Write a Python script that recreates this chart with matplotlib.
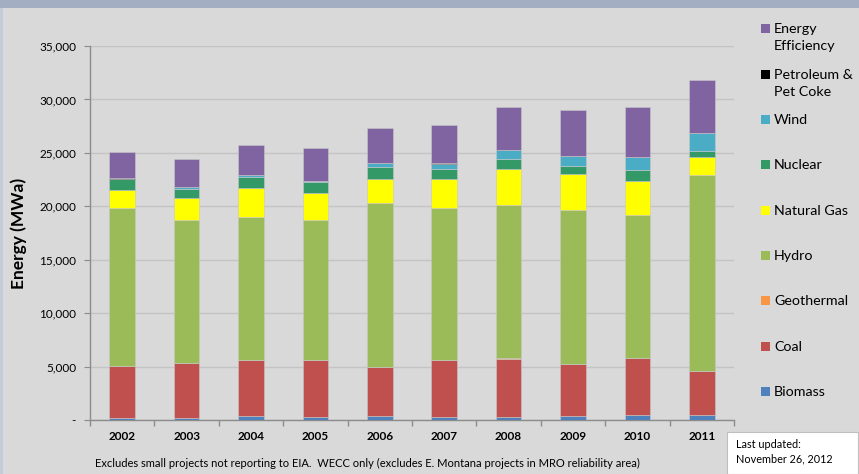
import matplotlib
matplotlib.use("Agg")
import matplotlib.pyplot as plt
from matplotlib.patches import Rectangle
from matplotlib.ticker import FuncFormatter, FixedLocator
import numpy as np

plt.rcParams['font.family'] = ['Lato', 'DejaVu Sans']

years = ["2002", "2003", "2004", "2005", "2006", "2007", "2008", "2009", "2010", "2011"]

# MWa per resource, bottom to top of each stack
biomass = [200, 230, 370, 300, 350, 300, 300, 390, 460, 460]
coal = [4850, 5080, 5200, 5290, 4590, 5290, 5450, 4830, 5320, 4105]
geothermal = [50, 50, 50, 50, 50, 50, 50, 50, 50, 50]
hydro = [14700, 13385, 13385, 13075, 15290, 14230, 14350, 14350, 13350, 18285]
natural_gas = [1710, 2030, 2710, 2555, 2300, 2680, 3310, 3430, 3220, 1740]
nuclear = [1000, 875, 1060, 970, 1095, 940, 1000, 750, 1020, 530]
wind = [90, 180, 130, 100, 345, 500, 780, 930, 1160, 1690]
petroleum = [20, 20, 20, 20, 20, 20, 20, 20, 20, 20]
energy_efficiency = [2450, 2560, 2800, 3050, 3305, 3610, 3990, 4280, 4680, 4960]

series = [
    ("Biomass", biomass, "#4f81bd"),
    ("Coal", coal, "#c0504d"),
    ("Geothermal", geothermal, "#f79646"),
    ("Hydro", hydro, "#9bbb59"),
    ("Natural Gas", natural_gas, "#ffff00"),
    ("Nuclear", nuclear, "#339966"),
    ("Wind", wind, "#4bacc6"),
    ("Petroleum &\nPet Coke", petroleum, "#000000"),
    ("Energy\nEfficiency", energy_efficiency, "#8064a2"),
]

W, H = 859, 474
fig = plt.figure(figsize=(W / 100, H / 100), dpi=100)
fig.patch.set_facecolor("#d9d9d9")

# slide-style top band and left edge
fig.patches.append(Rectangle((0, 1 - 8 / H), 1, 8 / H, transform=fig.transFigure,
                             facecolor="#a3aec2", edgecolor="none", zorder=0))
fig.patches.append(Rectangle((0, 0), 3 / W, 1 - 8 / H, transform=fig.transFigure,
                             facecolor="#c5ccd9", edgecolor="none", zorder=0))

ax = fig.add_axes([90 / W, 1 - 420 / H, 644 / W, 374 / H])
ax.set_facecolor("#d9d9d9")

x = np.arange(len(years))
bottom = np.zeros(len(years))
for name, vals, color in series:
    ax.bar(x, vals, 0.4, bottom=bottom, color=color, edgecolor="#c8c8c8",
           linewidth=0.4, zorder=3)
    bottom += np.array(vals)

ax.set_xlim(-0.5, len(years) - 0.5)
ax.set_ylim(0, 35000)
ax.set_yticks(np.arange(0, 35001, 5000))
ax.yaxis.set_major_formatter(FuncFormatter(lambda v, p: "-" if v == 0 else f"{int(v):,}"))
ax.yaxis.grid(True, color="#c4c4c4", linewidth=1.0, zorder=0)
ax.set_axisbelow(True)

ax.set_xticks(x)
ax.set_xticklabels(years, fontweight="bold", fontsize=8.5)
ax.tick_params(axis="x", length=0, pad=8)
ax.xaxis.set_minor_locator(FixedLocator(np.arange(-0.5, len(years), 1.0)))
ax.tick_params(axis="x", which="minor", length=4, color="#8c8c8c", width=1)
ax.tick_params(axis="y", length=4, color="#8c8c8c", labelsize=8.5, pad=6)

for s in ["top", "right"]:
    ax.spines[s].set_visible(False)
for s in ["left", "bottom"]:
    ax.spines[s].set_color("#8c8c8c")
    ax.spines[s].set_linewidth(1)

ax.set_ylabel("Energy (MWa)", fontweight="bold", fontsize=12.5, labelpad=9)

# legend on the right, top to bottom
legend_y = [29, 75, 120, 165, 211, 256, 301, 347, 392]
for (name, vals, color), yy in zip(series[::-1], legend_y):
    fig.patches.append(Rectangle((761 / W, 1 - (yy + 4) / H), 9 / W, 9 / H,
                                 transform=fig.transFigure, facecolor=color,
                                 edgecolor="none"))
    if "\n" in name:
        fig.text(774 / W, 1 - (yy - 6) / H, name, fontsize=10.3, va="top",
                 ha="left", linespacing=1.55)
    else:
        fig.text(774 / W, 1 - yy / H, name, fontsize=10.3, va="center", ha="left")

fig.text(367 / W, 1 - 463 / H,
         "Excludes small projects not reporting to EIA.  WECC only (excludes E. Montana projects in MRO reliability area)",
         fontsize=8, ha="center", va="center")

fig.patches.append(Rectangle((727 / W, 0), 131 / W, 42 / H, transform=fig.transFigure,
                             facecolor="white", edgecolor="#bfbfbf", linewidth=0.8))
fig.text(736 / W, 1 - 444 / H, "Last updated:", fontsize=7.8, va="center")
fig.text(736 / W, 1 - 459 / H, "November 26, 2012", fontsize=7.8, va="center")

fig.savefig("out.png", dpi=100, facecolor=fig.get_facecolor())
